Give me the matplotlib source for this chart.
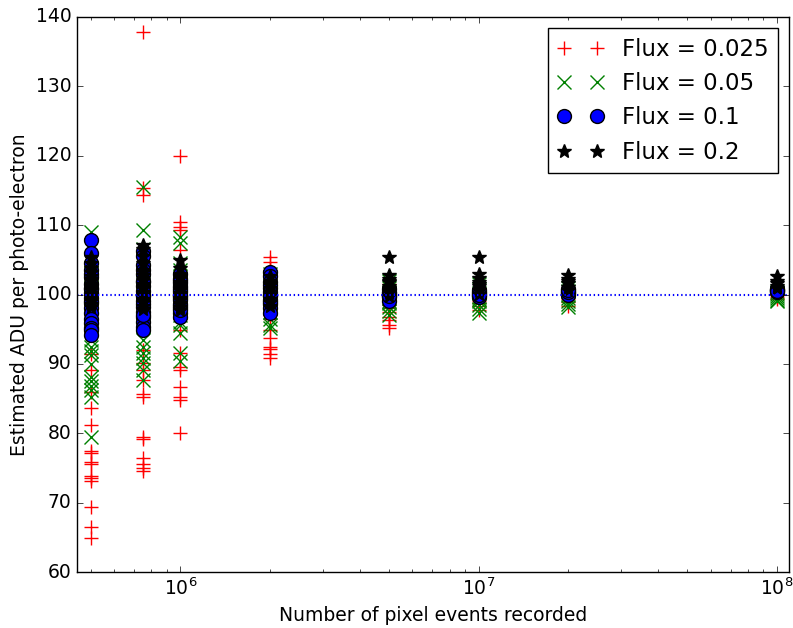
import matplotlib
matplotlib.use('Agg')
import matplotlib.pyplot as plt

plt.style.use('classic')
plt.rcParams['font.size'] = 13.5

# number of pixel events recorded (x positions of the columns)
events = [5e5, 7.5e5, 1e6, 2e6, 5e6, 1e7, 2e7, 1e8]

# estimated ADU per photo-electron, one list per event count
adu_f0025 = [
    [89.1, 83.6, 81.2, 77.4, 77.1, 75.8, 75.6, 73.9, 73.6, 73.2, 69.4, 66.5, 64.9,
     86.0, 91.5, 94.5, 97.0, 99.5, 102.0, 104.5],
    [137.9, 115.3, 114.3, 90.1, 89.1, 87.7, 85.6, 85.3, 79.5, 79.2, 76.4, 75.6, 75.0,
     74.5, 92.0, 95.5, 98.0, 100.5, 103.0, 106.0],
    [119.9, 110.5, 109.7, 109.3, 106.4, 94.9, 91.6, 89.6, 89.1, 86.7, 85.3, 84.8, 80.0,
     96.5, 98.5, 100.0, 101.5, 103.0, 97.5, 102.0],
    [105.4, 104.7, 94.9, 93.8, 92.5, 92.1, 91.5, 90.8, 96.5, 98.0, 99.5, 101.0, 102.5,
     100.0, 97.0, 103.5],
    [96.8, 96.3, 95.6, 95.2, 97.5, 98.5, 99.5, 100.5, 101.5, 98.0],
    [97.8, 98.3, 98.8, 99.5, 100.2, 101.0, 99.0, 100.6],
    [98.4, 98.9, 99.4, 100.0, 100.5, 99.7, 101.0],
    [99.3, 99.6, 99.9, 100.2, 100.4, 100.0],
]
adu_f005 = [
    [109.0, 92.5, 91.8, 91.3, 90.0, 88.1, 87.6, 86.8, 86.2, 85.2, 79.4, 93.5, 95.0,
     97.0, 99.0, 101.0, 103.0, 105.0, 107.0, 100.0],
    [115.5, 109.3, 93.4, 92.5, 91.6, 90.8, 90.1, 89.1, 87.7, 95.5, 97.5, 99.0, 100.5,
     102.0, 103.5, 105.0, 106.5, 101.0, 98.5, 96.5],
    [108.3, 107.4, 95.6, 94.4, 91.6, 90.4, 97.0, 98.5, 99.5, 100.5, 101.5, 102.5, 103.5,
     104.5, 100.0, 96.0, 99.0, 102.0, 98.0, 101.0],
    [95.6, 95.2, 96.5, 97.5, 98.5, 99.5, 100.5, 101.5, 102.5, 103.0, 100.0, 98.0],
    [98.2, 97.6, 97.0, 98.8, 99.5, 100.3, 101.0, 102.0, 99.0, 100.0],
    [98.5, 97.9, 97.3, 99.0, 99.6, 100.2, 100.8, 101.5, 99.3],
    [99.0, 98.6, 98.2, 99.5, 100.0, 100.5, 101.0],
    [99.5, 99.2, 99.0, 99.8, 100.1, 100.4],
]
adu_f01 = [
    [107.8, 106.0, 104.5, 103.5, 102.5, 101.5, 100.8, 100.2, 99.5, 98.8, 98.0, 97.3,
     96.5, 95.9, 95.2, 94.9, 94.2, 103.0, 101.0, 99.0],
    [106.3, 105.5, 104.2, 103.0, 102.0, 101.2, 100.5, 99.8, 99.0, 98.2, 97.5, 96.8,
     96.0, 95.3, 94.9, 100.0, 101.8, 98.6, 103.6, 97.0],
    [103.0, 102.3, 101.6, 101.0, 100.4, 99.8, 99.2, 98.6, 98.0, 97.4, 96.8, 100.0,
     101.3, 99.5, 98.3, 102.0, 97.7, 100.7],
    [103.3, 102.6, 101.8, 101.0, 100.4, 99.8, 99.2, 98.6, 98.0, 97.3, 100.0, 101.4, 98.9],
    [100.8, 100.4, 100.0, 99.6, 99.1, 100.2, 99.8],
    [100.6, 100.2, 99.9, 99.7, 100.4, 100.0],
    [100.8, 100.4, 100.1, 99.9, 100.3, 100.6],
    [100.8, 100.6, 100.4, 100.7, 100.5],
]
adu_f02 = [
    [105.4, 104.6, 103.8, 103.2, 102.6, 102.0, 101.5, 101.0, 100.6, 100.2, 99.8, 99.4,
     99.0, 98.6, 98.2, 100.0, 101.2, 102.3, 99.6, 100.8],
    [107.2, 106.5, 105.5, 104.5, 103.6, 102.8, 102.1, 101.5, 100.9, 100.4, 99.9, 99.4,
     98.9, 98.4, 97.9, 101.2, 100.0, 102.4, 103.2, 99.2],
    [105.0, 103.8, 103.0, 102.4, 101.8, 101.2, 100.7, 100.2, 99.7, 99.2, 98.7, 98.2,
     97.8, 100.0, 101.5, 102.7, 99.5, 100.9],
    [102.6, 102.0, 101.4, 100.9, 100.4, 99.9, 99.4, 98.9, 98.4, 100.0, 101.7],
    [105.4, 102.8, 102.3, 101.8, 101.3, 100.8, 100.3, 99.8, 101.0, 102.0],
    [105.4, 103.0, 102.4, 101.8, 101.2, 100.6, 100.1, 101.5],
    [102.8, 102.2, 101.6, 101.1, 100.6, 102.0],
    [102.6, 101.9, 101.3, 100.9, 101.6],
]

series = [
    (adu_f0025, 'r+', 'Flux = 0.025'),
    (adu_f005, 'gx', 'Flux = 0.05'),
    (adu_f01, 'bo', 'Flux = 0.1'),
    (adu_f02, 'k*', 'Flux = 0.2'),
]

fig = plt.figure(figsize=(7.93, 6.28), dpi=100, facecolor='white')
ax = fig.add_axes([0.097, 0.089, 0.898, 0.884])

for data, fmt, label in series:
    xs, ys = [], []
    for n, vals in zip(events, data):
        xs += [n] * len(vals)
        ys += vals
    ax.plot(xs, ys, fmt, markersize=10, markeredgewidth=1, label=label)

ax.axhline(100, color='b', linestyle=(0, (1, 2)), linewidth=1.5)

ax.set_xscale('log')
ax.set_xlim(4.5e5, 1.1e8)
ax.set_ylim(60, 140)
ax.set_xlabel('Number of pixel events recorded')
ax.set_ylabel('Estimated ADU per photo-electron')
ax.legend(loc='upper right', numpoints=2, fontsize=16.5)

fig.savefig('out.png', dpi=100, facecolor='white')
